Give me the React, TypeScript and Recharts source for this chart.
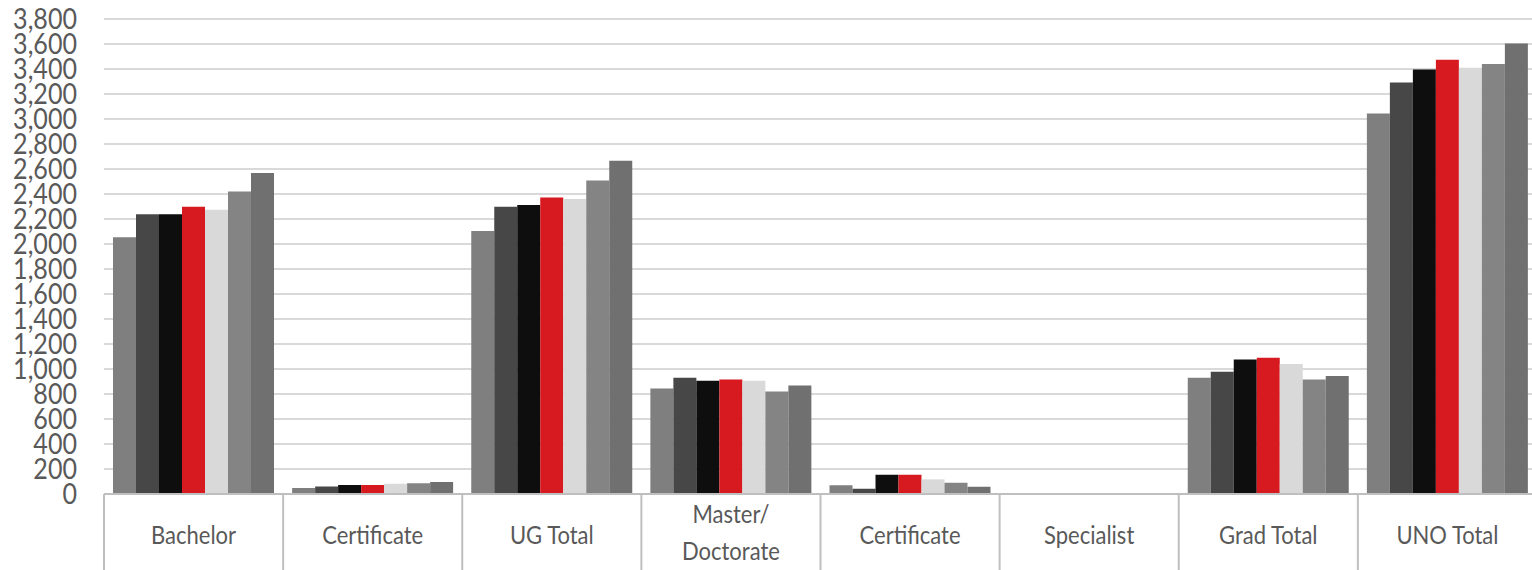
import React from 'react';
import { BarChart, Bar, XAxis, YAxis, CartesianGrid } from 'recharts';

const categories = ['Bachelor', 'Certificate', 'UG Total', 'Master/\nDoctorate', 'Certificate', 'Specialist', 'Grad Total', 'UNO Total'];

const series1 = [2055, 48, 2105, 845, 70, 0, 931, 3045];
const series2 = [2238, 60, 2298, 931, 42, 0, 979, 3293];
const series3 = [2238, 72, 2312, 907, 154, 0, 1077, 3397];
const series4 = [2298, 72, 2373, 917, 154, 0, 1091, 3475];
const series5 = [2275, 82, 2360, 907, 117, 0, 1040, 3411];
const series6 = [2421, 86, 2509, 821, 90, 0, 917, 3440];
const series7 = [2568, 96, 2666, 869, 58, 0, 944, 3605];

const seriesNames = ['Series 1', 'Series 2', 'Series 3', 'Series 4', 'Series 5', 'Series 6', 'Series 7'];
const seriesColors = ['#7f7f7f', '#474747', '#0e0e0e', '#d71920', '#d9d9d9', '#848484', '#707070'];
const allSeries = [series1, series2, series3, series4, series5, series6, series7];

const yTicks = [0, 200, 400, 600, 800, 1000, 1200, 1400, 1600, 1800, 2000, 2200, 2400, 2600, 2800, 3000, 3200, 3400, 3600, 3800];

const data = categories.map((c, i) => {
  const row: Record<string, any> = { name: c };
  allSeries.forEach((s, k) => {
    row['s' + k] = s[i];
  });
  return row;
});

const CHART_W = 1537;
const CHART_H = 570;
const Y_W = 104;
const TOP = 19;
const X_H = 76;
const PLOT_W = CHART_W - Y_W;
const BAND = PLOT_W / categories.length;

const FONT = 'Lato, "Open Sans", sans-serif';
const TEXT_COLOR = '#595959';

function XTick(props: any) {
  const { x, y, payload, index } = props;
  const lines = String(payload.value).split('\n');
  const left = x - BAND / 2;
  const right = x + BAND / 2;
  const baselines = lines.length === 1 ? [50] : [29, 66];
  return (
    <g>
      <line x1={left} x2={left} y1={y} y2={y + X_H} stroke="#bfbfbf" strokeWidth={2} />
      {index === categories.length - 1 && (
        <line x1={right} x2={right} y1={y} y2={y + X_H} stroke="#bfbfbf" strokeWidth={2} />
      )}
      {lines.map((l, i) => (
        <g key={i} transform={`translate(${x},${y + baselines[i]})`}>
          <text x={0} y={0} transform="scale(0.88,1)" textAnchor="middle" fill={TEXT_COLOR} fontSize={25} fontFamily={FONT}>
            {l}
          </text>
        </g>
      ))}
    </g>
  );
}

function YTick(props: any) {
  const { x, y, payload } = props;
  return (
    <g transform={`translate(${x},${y})`}>
      <text x={0} y={0} dy={10} transform="scale(0.865,1)" textAnchor="end" fill={TEXT_COLOR} fontSize={29} fontFamily={FONT}>
        {Number(payload.value).toLocaleString('en-US')}
      </text>
    </g>
  );
}

export default function App() {
  return (
    <div style={{ position: 'absolute', left: 0, top: 0, width: 1532, height: 570, overflow: 'hidden', background: '#fff' }}>
      <BarChart
        width={CHART_W}
        height={CHART_H}
        data={data}
        margin={{ top: TOP, right: 0, bottom: 0, left: 0 }}
        barCategoryGap={9}
        barGap={0}
      >
        <CartesianGrid vertical={false} stroke="#d9d9d9" strokeWidth={2} />
        <XAxis
          dataKey="name"
          height={X_H}
          interval={0}
          tickLine={false}
          tickSize={0}
          tickMargin={0}
          axisLine={{ stroke: '#bfbfbf', strokeWidth: 2 }}
          tick={<XTick />}
        />
        <YAxis
          width={Y_W}
          domain={[0, 3800]}
          ticks={yTicks}
          interval={0}
          axisLine={false}
          tickLine={false}
          tickMargin={21}
          tick={<YTick />}
        />
        {allSeries.map((s, k) => (
          <Bar key={k} dataKey={'s' + k} name={seriesNames[k]} fill={seriesColors[k]} isAnimationActive={false} />
        ))}
      </BarChart>
    </div>
  );
}
